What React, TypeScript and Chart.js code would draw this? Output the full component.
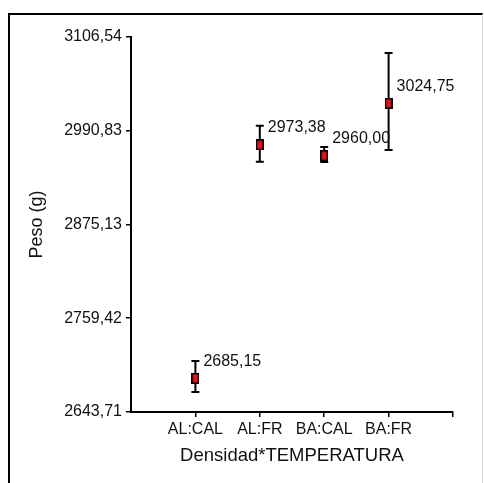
import { useEffect, useRef } from 'react';
import { Chart, registerables } from 'chart.js';

Chart.register(...registerables);

const categories = ['AL:CAL', 'AL:FR', 'BA:CAL', 'BA:FR'];
const means = [2685.15, 2973.38, 2960.0, 3024.75];
const errLow = [2668.4, 2952.7, 2952.3, 2967.1];
const errHigh = [2706.7, 2997.1, 2970.8, 3086.8];
const xTickValues = [1, 2, 3, 4, 5];
const yTickValues = [2643.71, 2759.42, 2875.13, 2990.83, 3106.54];
const yTickLabels = ['2643,71', '2759,42', '2875,13', '2990,83', '3106,54'];
const yTitle = 'Peso (g)';
const xTitle = 'Densidad*TEMPERATURA';

const FONT = '"Liberation Sans", Arial, sans-serif';
const TEXT = '#111';

function fmt(v: number) {
  return v.toFixed(2).replace('.', ',');
}

export default function App() {
  const ref = useRef<HTMLCanvasElement | null>(null);

  useEffect(() => {
    document.documentElement.style.overflow = 'hidden';
    const canvas = ref.current;
    if (!canvas) return;

    const marker = document.createElement('canvas');
    marker.width = 8;
    marker.height = 11;
    const mctx = marker.getContext('2d')!;
    mctx.fillStyle = '#000';
    mctx.fillRect(0, 0, 8, 11);
    mctx.fillStyle = '#e3141c';
    mctx.fillRect(1.5, 1.5, 5, 8);

    const errorBars = {
      id: 'errorBars',
      beforeDatasetsDraw(chart: any) {
        const { ctx } = chart;
        const xs = chart.scales.x;
        const ys = chart.scales.y;
        ctx.save();
        ctx.strokeStyle = '#000';
        ctx.lineWidth = 2;
        for (let i = 0; i < means.length; i++) {
          const px = xs.getPixelForValue(i + 1);
          const yl = ys.getPixelForValue(errLow[i]);
          const yh = ys.getPixelForValue(errHigh[i]);
          ctx.beginPath();
          ctx.moveTo(px, yl);
          ctx.lineTo(px, yh);
          ctx.moveTo(px - 4, yl);
          ctx.lineTo(px + 4, yl);
          ctx.moveTo(px - 4, yh);
          ctx.lineTo(px + 4, yh);
          ctx.stroke();
        }
        ctx.restore();
      },
      afterDatasetsDraw(chart: any) {
        const { ctx } = chart;
        const meta = chart.getDatasetMeta(0);
        ctx.save();
        ctx.font = `16px ${FONT}`;
        ctx.fillStyle = TEXT;
        ctx.textAlign = 'left';
        ctx.textBaseline = 'middle';
        meta.data.forEach((pt: any, i: number) => {
          ctx.fillText(fmt(means[i]), pt.x + 8, pt.y - 17);
        });
        ctx.restore();
      },
    };

    const chart = new Chart(canvas, {
      type: 'scatter',
      data: {
        datasets: [
          {
            data: means.map((m, i) => ({ x: i + 1, y: m })),
            pointStyle: marker as any,
            pointRadius: 5,
            showLine: false,
          },
        ],
      },
      options: {
        responsive: false,
        animation: false,
        layout: { padding: { top: 22, right: 29, left: 0, bottom: 0 } },
        plugins: { legend: { display: false }, tooltip: { enabled: false } },
        scales: {
          x: {
            type: 'linear',
            min: 0,
            max: 5,
            afterBuildTicks: (s: any) => {
              s.ticks = xTickValues.map((v) => ({ value: v }));
            },
            afterFit: (s: any) => {
              s.height = 71;
            },
            ticks: {
              callback: (_v: any, i: number) => categories[i] ?? '',
              font: { family: FONT, size: 16 },
              color: TEXT,
              padding: 3,
              maxRotation: 0,
              autoSkip: false,
            },
            grid: { drawOnChartArea: false, drawTicks: true, tickLength: 5, color: '#000', lineWidth: 1.5 },
            border: { display: true, color: '#000', width: 2 },
            title: {
              display: true,
              text: xTitle,
              font: { family: FONT, size: 18.5 },
              color: TEXT,
              padding: { top: 0, bottom: 16 },
            },
          },
          y: {
            type: 'linear',
            min: yTickValues[0],
            max: yTickValues[yTickValues.length - 1],
            afterBuildTicks: (s: any) => {
              s.ticks = yTickValues.map((v) => ({ value: v }));
            },
            afterFit: (s: any) => {
              s.width = 121;
            },
            ticks: {
              callback: (_v: any, i: number) => yTickLabels[i] ?? '',
              font: { family: FONT, size: 16 },
              color: TEXT,
              padding: 4,
              autoSkip: false,
            },
            grid: { drawOnChartArea: false, drawTicks: true, tickLength: 5, color: '#000', lineWidth: 1.5 },
            border: { display: true, color: '#000', width: 2 },
            title: {
              display: true,
              text: yTitle,
              font: { family: FONT, size: 18 },
              color: TEXT,
              padding: { top: 16, bottom: 0 },
            },
          },
        },
      },
      plugins: [errorBars],
    } as any);

    return () => chart.destroy();
  }, []);

  return (
    <div style={{ position: 'fixed', left: 0, top: 0, width: 484, height: 483, background: '#fff', overflow: 'hidden' }}>
      <div
        style={{
          position: 'absolute',
          left: 8,
          top: 13,
          width: 475,
          height: 480,
          boxSizing: 'border-box',
          borderTop: '2px solid #000',
          borderLeft: '2px solid #000',
          borderRight: '1px solid #dcdcdc',
        }}
      >
        <canvas ref={ref} width={472} height={468} style={{ display: 'block', width: 472, height: 468 }} />
      </div>
    </div>
  );
}
